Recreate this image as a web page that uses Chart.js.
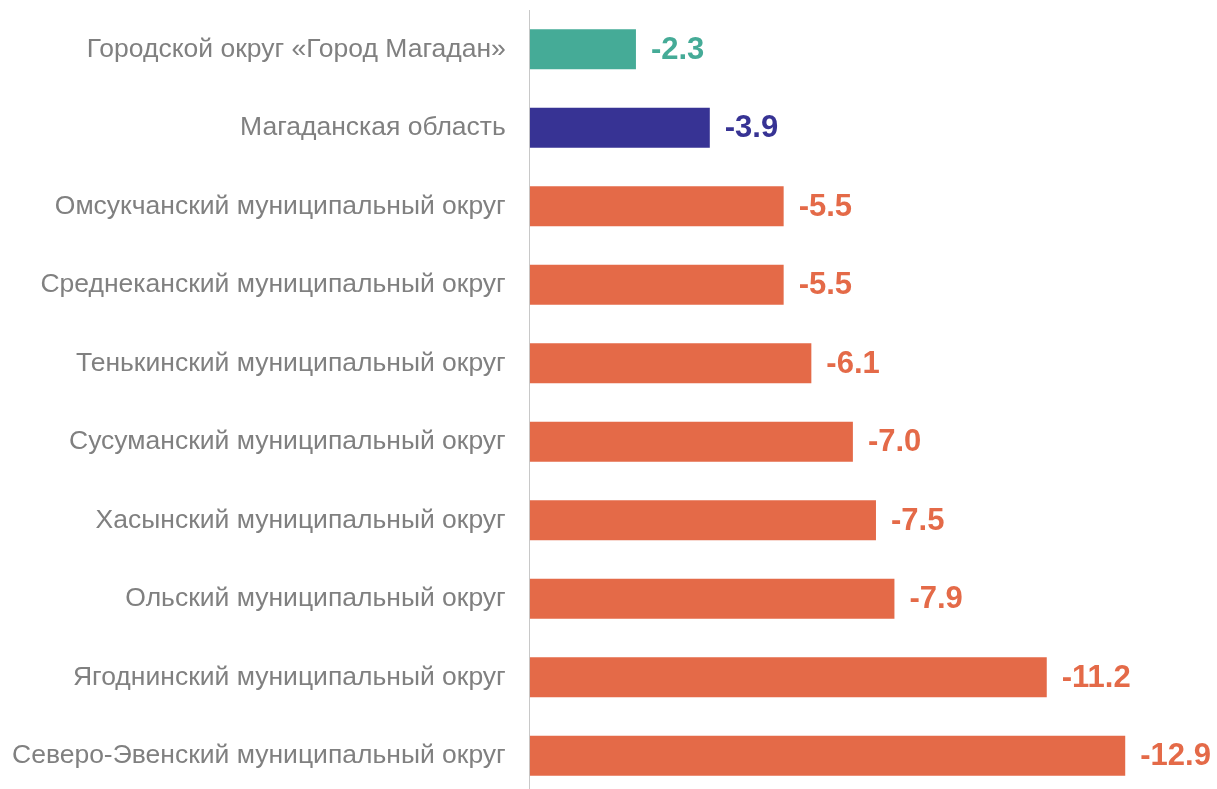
<!DOCTYPE html>
<html>
<head>
<meta charset="utf-8">
<script src="https://cdn.jsdelivr.net/npm/chart.js@4"></script>
<style>
  body { margin: 0; overflow: hidden; background: #fff; }
  #wrap { width: 1217px; height: 800px; }
</style>
</head>
<body>
<div id="wrap"><canvas id="c" width="1217" height="800"></canvas></div>
<script>
var categories = [
  "Городской округ «Город Магадан»",
  "Магаданская область",
  "Омсукчанский муниципальный округ",
  "Среднеканский муниципальный округ",
  "Тенькинский муниципальный округ",
  "Сусуманский муниципальный округ",
  "Хасынский муниципальный округ",
  "Ольский муниципальный округ",
  "Ягоднинский муниципальный округ",
  "Северо-Эвенский муниципальный округ"
];
var values = [-2.3, -3.9, -5.5, -5.5, -6.1, -7.0, -7.5, -7.9, -11.2, -12.9];
var barColors = ["#45ab97", "#373394", "#e46a48", "#e46a48", "#e46a48",
  "#e46a48", "#e46a48", "#e46a48", "#e46a48", "#e46a48"];

// подписи значений справа от столбцов
var valueLabels = {
  id: "valueLabels",
  afterDatasetsDraw: function (chart) {
    var ctx = chart.ctx;
    var meta = chart.getDatasetMeta(0);
    ctx.save();
    ctx.font = "bold 31px 'Liberation Sans', Arial, sans-serif";
    ctx.textBaseline = "middle";
    ctx.textAlign = "left";
    meta.data.forEach(function (bar, i) {
      ctx.fillStyle = barColors[i];
      ctx.fillText(values[i].toFixed(1), bar.x + 15, bar.y + 1);
    });
    ctx.restore();
  }
};

var ctx = document.getElementById("c").getContext("2d");
var chart = new Chart(ctx, {
  type: "bar",
  data: {
    labels: categories,
    datasets: [{
      data: values,
      backgroundColor: barColors,
      barPercentage: 1,
      categoryPercentage: 0.51,
      borderWidth: 0
    }]
  },
  options: {
    indexAxis: "y",
    responsive: false,
    animation: { duration: 0 },
    layout: { padding: { top: 10, right: 41, bottom: 5, left: 0 } },
    plugins: {
      legend: { display: false },
      tooltip: { enabled: false }
    },
    scales: {
      x: {
        display: false,
        reverse: true,
        min: -14,
        max: 0
      },
      y: {
        grid: { display: false, drawTicks: false },
        border: { display: true, color: "#c8c8c8", width: 1 },
        ticks: {
          color: "#808080",
          padding: 24,
          font: { family: "'Liberation Sans', Arial, sans-serif", size: 26.5 }
        },
        afterFit: function (scale) {
          // убрать лишний отступ сверху/снизу от padding подписей
          scale.paddingTop = 0;
          scale.paddingBottom = 0;
          scale.width -= 12;
        }
      }
    }
  },
  plugins: [valueLabels]
});
</script>
</body>
</html>
